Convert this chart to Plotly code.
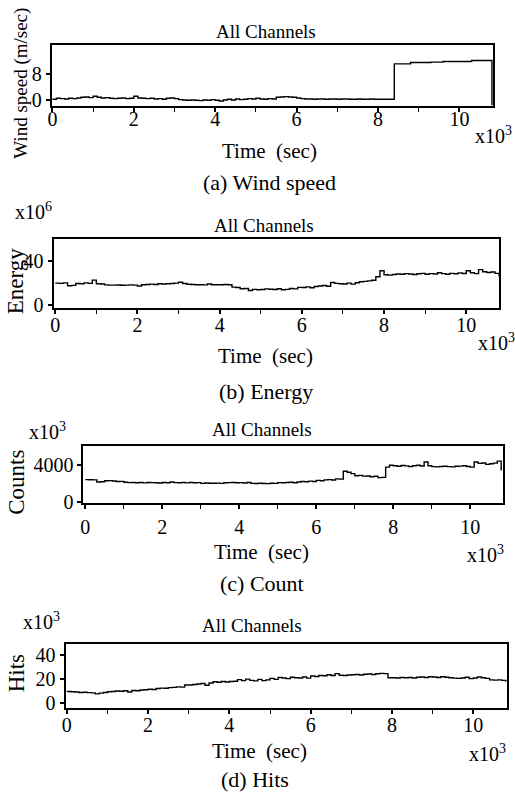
import numpy as np
import plotly.graph_objects as go

W, H = 515, 799

# time axis in units of 10^3 s (0.0 .. 10.8)
time_ks = [round(i * 0.1, 1) for i in range(109)]

wind_speed = [
    0.3, 0.6, 0.5, 0.4, 0.6, 0.5, 0.7, 0.9, 1.0, 0.8,
    1.2, 0.9, 0.7, 0.8, 0.6, 0.5, 0.6, 0.7, 0.5, 0.6,
    1.2, 0.7, 0.6, 0.5, 0.6, 0.4, 0.5, 0.3, 0.6, 0.7,
    0.5, 0.2, 0.1, 0.0, 0.1, 0.0, -0.1, 0.1, 0.0, 0.2,
    0.0, -0.2, 0.1, 0.3, 0.1, 0.4, 0.2, 0.3, 0.5, 0.4,
    0.6, 0.4, 0.3, 0.5, 0.4, 0.9, 1.0, 1.1, 1.0, 0.9,
    0.7, 0.5, 0.4, 0.4, 0.3, 0.4, 0.4, 0.3, 0.4, 0.4,
    0.3, 0.4, 0.4, 0.3, 0.3, 0.4, 0.3, 0.3, 0.4, 0.3,
    0.3, 0.3, 0.3, 0.3, 10.9, 10.9, 10.9, 10.9, 11.3, 11.3,
    11.3, 11.3, 11.3, 11.4, 11.4, 11.4, 11.6, 11.6, 11.6, 11.6,
    11.6, 11.6, 11.6, 11.9, 11.9, 11.9, 11.9, 11.9, -1.5,
]

energy = [  # x10^6
    19.8, 19.6, 20.0, 17.5, 17.8, 19.5, 19.2, 20.0, 19.6, 22.5,
    19.2, 19.0, 18.2, 18.0, 18.0, 18.1, 17.9, 18.0, 18.2, 18.0,
    17.2, 18.4, 18.6, 18.9, 18.5, 19.2, 19.0, 19.3, 19.5, 19.8,
    20.6, 19.4, 18.8, 18.6, 18.3, 18.4, 18.2, 19.0, 18.4, 18.4,
    18.4, 18.5, 18.3, 16.2, 15.8, 14.8, 14.9, 13.2, 14.2, 13.8,
    14.0, 14.6, 14.3, 14.0, 14.8, 13.9, 14.2, 15.0, 14.6, 16.0,
    15.8, 16.4, 15.6, 16.8, 17.2, 17.6, 17.0, 20.4, 19.6, 19.2,
    19.0, 19.8, 18.9, 20.2, 21.0, 21.4, 21.8, 22.4, 25.5, 31.0,
    27.4, 27.0, 27.6, 28.0, 27.8, 28.4, 28.0, 27.6, 28.3, 28.6,
    27.8, 28.4, 28.0, 29.2, 28.4, 27.8, 28.6, 28.2, 29.0, 28.5,
    31.0, 29.2, 28.4, 32.0, 30.0, 29.4, 29.8, 28.6, 25.8,
]

counts = [  # x10^3
    2400, 2390, 2380, 2150, 2180, 2280, 2300, 2260, 2200, 2210,
    2120, 2080, 2100, 2060, 2090, 2050, 2100, 2080, 2060, 2040,
    2100, 2060, 2140, 2080, 2070, 2090, 2050, 2100, 2060, 2080,
    2000, 2040, 2020, 2010, 2030, 2000, 2060, 2080, 2100, 2060,
    2080, 2040, 2100, 2000, 1980, 2020, 1990, 1970, 2010, 2000,
    2080, 2060, 2100, 2120, 2060, 2150, 2200, 2180, 2240, 2200,
    2320, 2280, 2380, 2400, 2360, 2480, 2460, 3300, 3200, 3050,
    2820, 2860, 2780, 2800, 2720, 2760, 2620, 2650, 3750, 3950,
    3900, 3850, 3920, 3880, 3820, 3900, 3950, 3870, 4300, 3900,
    3800, 3780, 3820, 3850, 3800, 3780, 3840, 3860, 3900, 3820,
    3750, 4300, 4150, 4200, 4050, 4120, 4180, 4400, 3400,
]

hits = [  # x10^3
    9.6, 9.4, 9.2, 8.8, 9.0, 8.6, 8.4, 7.6, 8.2, 8.8,
    9.4, 9.6, 10.0, 9.8, 10.2, 9.2, 10.4, 10.2, 10.8, 11.0,
    11.4, 11.2, 12.0, 12.4, 12.2, 12.8, 13.0, 13.4, 13.2, 15.0,
    15.0, 15.4, 15.8, 16.2, 14.8, 16.6, 17.6, 17.2, 17.8, 17.4,
    17.8, 18.0, 19.4, 18.6, 19.8, 18.8, 18.4, 19.6, 18.6, 19.2,
    20.4, 19.6, 21.2, 20.8, 20.2, 21.4, 21.0, 20.8, 21.6, 20.6,
    22.4, 22.0, 22.8, 22.6, 23.4, 22.8, 24.4, 23.0, 22.8, 23.2,
    23.4, 23.6, 23.2, 23.8, 24.0, 23.6, 24.2, 24.6, 24.4, 21.0,
    21.0, 20.8, 21.2, 21.0, 21.2, 20.8, 21.4, 21.6, 21.2, 21.8,
    21.6, 21.2, 21.8, 21.4, 21.0, 20.6, 20.4, 20.8, 21.4, 20.2,
    20.8, 21.6, 21.0, 20.4, 19.2, 19.0, 19.2, 18.8, 17.6,
]

x_ticks = [0, 2, 4, 6, 8, 10]
panels = [
    dict(y=wind_speed, yticks=[0, 8], xstand=-10,
         px=(48, 493), py=(46, 107), xr=[-0.02, 10.83], yr=[-1.6, 16.4]),
    dict(y=energy, yticks=[0, 40], xstand=-6,
         px=(50, 499), py=(242, 312), xr=[-0.04, 10.8], yr=[-2.7, 59.6]),
    dict(y=counts, yticks=[0, 4000], xstand=1,
         px=(80, 503), py=(452, 509), xr=[-0.05, 10.85], yr=[-75, 5990]),
    dict(y=hits, yticks=[0, 20, 40], xstand=-6,
         px=(62, 507), py=(652, 717), xr=[-0.03, 10.83], yr=[-4.1, 49]),
]

FONT = "Liberation Serif"

def pxx(x):
    return x / W

def pxy(y):
    return 1 - y / H

fig = go.Figure()
layout = dict(
    width=W, height=H, margin=dict(l=0, r=0, t=0, b=0),
    paper_bgcolor="white", plot_bgcolor="white", showlegend=False,
    font=dict(family=FONT, size=18, color="black"),
)
for i, p in enumerate(panels):
    n = "" if i == 0 else str(i + 1)
    fig.add_trace(go.Scatter(
        x=time_ks, y=p["y"], mode="lines", line=dict(color="black", width=1.4, shape="hv"),
        xaxis="x" + n, yaxis="y" + n, hoverinfo="skip"))
    axcommon = dict(showline=True, linewidth=2, linecolor="black", mirror=True,
                    showgrid=False, zeroline=False, ticks="outside", ticklen=4,
                    tickwidth=1.5, tickcolor="black",
                    tickfont=dict(family=FONT, size=20, color="black"))
    layout["xaxis" + n] = dict(
        axcommon, domain=[pxx(p["px"][0]), pxx(p["px"][1])], range=p["xr"],
        anchor="y" + n, tickvals=x_ticks, ticklabelstandoff=p["xstand"],
        minor=dict(dtick=1, tick0=0, ticks="outside", ticklen=4, tickwidth=1.2, tickcolor="black"))
    layout["yaxis" + n] = dict(
        axcommon, domain=[pxy(p["py"][1]), pxy(p["py"][0])], range=p["yr"],
        anchor="x" + n, tickvals=p["yticks"], ticklabelstandoff=0)
fig.update_layout(**layout)

def note(text, x, y, size=19, angle=0, xanchor="center"):
    fig.add_annotation(text=text, x=pxx(x), y=pxy(y), xref="paper", yref="paper",
                       showarrow=False, textangle=angle, xanchor=xanchor, yanchor="middle",
                       font=dict(family=FONT, size=size, color="black"))

# panel (a)
note("All Channels", 264, 32, 19)
note("Wind speed (m/sec)", 17, 84, 19, -90)
note("x10<sup>3</sup>", 493, 137, 20)
note("Time&nbsp; (sec)", 268, 153, 21)
note("(a) Wind speed", 268, 185, 22)
# panel (b)
note("x10<sup>6</sup>", 30, 214, 20)
note("All Channels", 262, 228, 19)
note("Energy", 12, 284, 23, -90)
note("x10<sup>3</sup>", 496, 346, 20)
note("Time&nbsp; (sec)", 264, 361, 21)
note("(b) Energy", 264, 396, 22)
# panel (c)
note("x10<sup>3</sup>", 44, 436, 20)
note("All Channels", 260, 435, 19)
note("Counts", 13, 488, 23, -90)
note("Time&nbsp; (sec)", 260, 559, 21)
note("x10<sup>3</sup>", 485, 561, 20)
note("(c) Count", 260, 591, 22)
# panel (d)
note("x10<sup>3</sup>", 38, 629, 20)
note("All Channels", 250, 633, 19)
note("Hits", 13, 682, 23, -90)
note("Time&nbsp; (sec)", 258, 761, 21)
note("x10<sup>3</sup>", 487, 763, 20)
note("(d) Hits", 253, 789, 22)

fig.write_html("out.html")
